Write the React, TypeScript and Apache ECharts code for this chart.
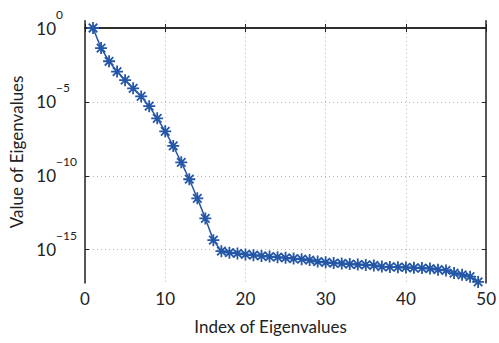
import React, { useEffect, useRef } from "react";
import * as echarts from "echarts";

// log10 of the eigenvalues, index 1..49
const log10Eigenvalues: number[] = [
  0, -1.36, -2.25, -2.95, -3.53, -4.08, -4.63, -5.29, -6.11, -6.99,
  -7.98, -9.09, -10.23, -11.52, -12.88, -14.35, -15.1, -15.2, -15.25, -15.32,
  -15.37, -15.42, -15.46, -15.5, -15.55, -15.6, -15.64, -15.7, -15.8, -15.85,
  -15.9, -15.93, -15.97, -16.0, -16.03, -16.06, -16.14, -16.16, -16.18, -16.2,
  -16.22, -16.24, -16.27, -16.35, -16.4, -16.58, -16.7, -16.82, -17.18,
];
const yTickExponents: number[] = [-15, -10, -5, 0];
const xTicks: number[] = [0, 10, 20, 30, 40, 50];

const xTitle = "Index of Eigenvalues";
const yTitle = "Value of Eigenvalues";

const BLUE = "#2457a8";
const AXIS = "#222";
const FONT = "Lato";

export default function App() {
  const ref = useRef<HTMLDivElement>(null);
  useEffect(() => {
    document.body.style.margin = "0";
    const chart = echarts.init(ref.current!, null, { renderer: "svg" });
    const yMin = -17.25;
    const yMax = 0.49;
    const star =
      "path://M5 0L5 10M0 5L10 5M1.46 1.46L8.54 8.54M8.54 1.46L1.46 8.54";
    chart.setOption({
      animation: false,
      backgroundColor: "#fff",
      grid: { left: 84, top: 15, width: 404, height: 268, containLabel: false },
      xAxis: [
        {
          type: "value",
          position: "bottom",
          min: xTicks[0],
          max: xTicks[xTicks.length - 1],
          interval: 10,
          name: xTitle,
          nameLocation: "middle",
          nameGap: 35,
          nameTextStyle: { fontFamily: FONT, fontSize: 17, color: AXIS, padding: [0, 30, 0, 0] },
          axisLine: { show: true, lineStyle: { color: AXIS, width: 1.5 } },
          axisTick: { show: true, inside: true, length: 4, lineStyle: { color: AXIS } },
          axisLabel: { fontFamily: FONT, fontSize: 17, color: AXIS, margin: 7 },
          splitLine: { show: true, lineStyle: { color: "#b5b5b5", type: [1, 3], width: 1 } },
        },
        {
          type: "value",
          position: "top",
          min: xTicks[0],
          max: xTicks[xTicks.length - 1],
          interval: 10,
          axisLine: { show: true, lineStyle: { color: AXIS, width: 1.5 } },
          axisTick: { show: true, inside: true, length: 4, lineStyle: { color: AXIS } },
          axisLabel: { show: false },
          splitLine: { show: false },
        },
      ],
      yAxis: [
        {
          type: "value",
          position: "left",
          min: yMin,
          max: yMax,
          name: yTitle,
          nameLocation: "middle",
          nameGap: 60,
          nameTextStyle: { fontFamily: FONT, fontSize: 17, color: AXIS },
          axisLine: { show: true, lineStyle: { color: AXIS, width: 1.5 } },
          axisTick: { show: true, inside: true, length: 4, customValues: yTickExponents, lineStyle: { color: AXIS } },
          axisLabel: {
            fontFamily: FONT,
            fontSize: 17,
            color: AXIS,
            margin: 29,
            customValues: yTickExponents,
            formatter: () => "10",
          },
          splitLine: { show: true, lineStyle: { color: "#b5b5b5", type: [1, 3], width: 1 } },
        },
        {
          type: "value",
          position: "left",
          min: yMin,
          max: yMax,
          axisLine: { show: false },
          axisTick: { show: false },
          axisLabel: {
            fontFamily: FONT,
            fontSize: 12,
            color: AXIS,
            margin: 29,
            align: "left",
            verticalAlign: "bottom",
            lineHeight: 28,
            customValues: yTickExponents,
            formatter: (v: number) => (v === 0 ? "0" : "\u2212" + Math.abs(v)),
          },
          splitLine: { show: false },
        },
        {
          type: "value",
          position: "right",
          min: yMin,
          max: yMax,
          axisLine: { show: true, lineStyle: { color: AXIS, width: 1.5 } },
          axisTick: { show: true, inside: true, length: 4, customValues: yTickExponents, lineStyle: { color: AXIS } },
          axisLabel: { show: false },
          splitLine: { show: false },
        },
      ],
      series: [
        {
          type: "line",
          xAxisIndex: 0,
          yAxisIndex: 0,
          data: log10Eigenvalues.map((v, i) => [i + 1, v]),
          symbol: star,
          symbolSize: 12,
          showSymbol: true,
          lineStyle: { color: BLUE, width: 1.5 },
          itemStyle: { color: BLUE, borderColor: BLUE, borderWidth: 1.8 },
          clip: false,
        },
      ],
    });
    return () => chart.dispose();
  }, []);
  return <div ref={ref} style={{ width: 499, height: 343 }} />;
}
